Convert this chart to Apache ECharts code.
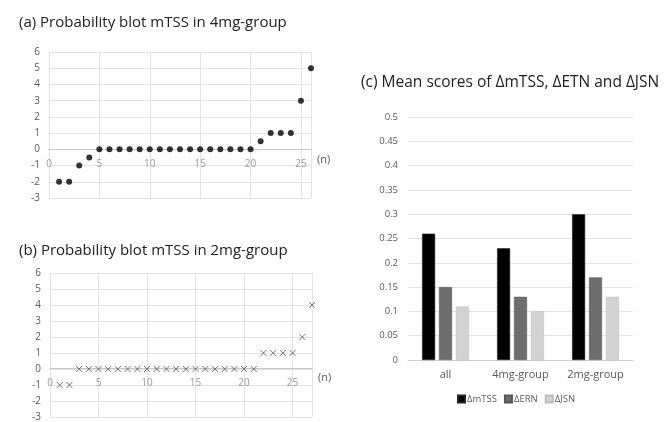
<!DOCTYPE html>
<html><head><meta charset="utf-8">
<script src="https://cdn.jsdelivr.net/npm/echarts@6/dist/echarts.min.js"></script>
<style>html,body{margin:0;padding:0;background:#fff}#c{width:670px;height:422px}</style>
</head><body><div id="c"></div>
<script>
// (a) 4mg-group probability plot
const nA = [1,2,3,4,5,6,7,8,9,10,11,12,13,14,15,16,17,18,19,20,21,22,23,24,25,26];
const mtss4mg = [-2,-2,-1,-0.5,0,0,0,0,0,0,0,0,0,0,0,0,0,0,0,0,0.5,1,1,1,3,5];
// (b) 2mg-group probability plot
const nB = [1,2,3,4,5,6,7,8,9,10,11,12,13,14,15,16,17,18,19,20,21,22,23,24,25,26,27];
const mtss2mg = [-1,-1,0,0,0,0,0,0,0,0,0,0,0,0,0,0,0,0,0,0,0,1,1,1,1,2,4];
// (c) mean scores
const groups = ['all','4mg-group','2mg-group'];
const dMTSS = [0.26,0.23,0.30];
const dERN = [0.15,0.13,0.17];
const dJSN = [0.11,0.10,0.13];
const seriesNames = ['ΔmTSS','ΔERN','ΔJSN'];
const titles = ['(a) Probability blot mTSS in 4mg-group','(b) Probability blot mTSS in 2mg-group','(c) Mean scores of ΔmTSS, ΔETN and ΔJSN'];

const FONT = '"Open Sans", "Liberation Sans", sans-serif';
const gridCol = '#e3e3e3';
const labCol = '#595959';
const Y_MIN = -3, Y_MAX = 6;

function scatterX(max, gi, gridH){
  // place the axis (line + labels) on the y = 0 line
  const off = -gridH * (0 - Y_MIN) / (Y_MAX - Y_MIN);
  return {
    type:'value', gridIndex:gi, min:0, max:max, interval:5, position:'bottom', offset:off,
    axisLine:{show:true, onZero:false, lineStyle:{color:'#c8c8c8'}},
    axisTick:{show:false},
    axisLabel:{color:'#9a9a9a', fontSize:10, fontFamily:FONT, margin:10, showMaxLabel:false},
    splitLine:{show:true, lineStyle:{color:gridCol}},
    name:'(n)', nameLocation:'end', nameGap:6,
    nameTextStyle:{color:labCol, fontSize:11, fontFamily:FONT, verticalAlign:'top', padding:[5,0,0,0]}
  };
}
function scatterY(gi){
  return {
    type:'value', gridIndex:gi, min:Y_MIN, max:Y_MAX, interval:1,
    axisLine:{show:false}, axisTick:{show:false},
    axisLabel:{color:labCol, fontSize:10, fontFamily:FONT, margin:9},
    splitLine:{show:true, lineStyle:{color:gridCol}}
  };
}

const gridA = {left:49, top:52, width:262, height:146};
const gridB = {left:50, top:273, width:262, height:147.5};
const gridC = {left:408, top:117, width:225, height:243};

const chart = echarts.init(document.getElementById('c'), null, {renderer:'canvas'});
chart.setOption({
  animation:false,
  backgroundColor:'#fff',
  textStyle:{fontFamily:FONT},
  title:[
    {text:titles[0], left:14, top:10, textStyle:{fontSize:15, fontWeight:'normal', color:'#222', fontFamily:FONT}},
    {text:titles[1], left:14, top:238, textStyle:{fontSize:15, fontWeight:'normal', color:'#222', fontFamily:FONT}},
    {text:titles[2], left:356, top:70, textStyle:{fontSize:15.5, fontWeight:'normal', color:'#222', fontFamily:FONT}}
  ],
  grid:[gridA, gridB, gridC],
  xAxis:[
    scatterX(26,0,gridA.height),
    scatterX(27,1,gridB.height),
    {type:'category', gridIndex:2, data:groups,
     axisLine:{show:true, lineStyle:{color:'#d0d0d0'}}, axisTick:{show:false},
     axisLabel:{color:labCol, fontSize:11, fontFamily:FONT, margin:9}}
  ],
  yAxis:[
    scatterY(0), scatterY(1),
    {type:'value', gridIndex:2, min:0, max:0.5, interval:0.05,
     axisLine:{show:false}, axisTick:{show:false},
     axisLabel:{color:labCol, fontSize:9.5, fontFamily:FONT, margin:10},
     splitLine:{show:true, lineStyle:{color:gridCol}}}
  ],
  legend:{
    data:seriesNames, left:452, top:389, icon:'rect', itemWidth:7, itemHeight:7, itemGap:7,
    textStyle:{color:labCol, fontSize:9.5, fontFamily:FONT, padding:[0,0,0,-3]}
  },
  series:[
    {type:'scatter', xAxisIndex:0, yAxisIndex:0, symbol:'circle', symbolSize:6,
     itemStyle:{color:'#000'}, data:nA.map((n,i)=>[n, mtss4mg[i]])},
    {type:'scatter', xAxisIndex:1, yAxisIndex:1,
     symbol:'path://M0,0L10,10M10,0L0,10', symbolSize:6,
     itemStyle:{color:'#555', borderColor:'#555', borderWidth:1}, data:nB.map((n,i)=>[n, mtss2mg[i]])},
    {type:'bar', name:seriesNames[0], xAxisIndex:2, yAxisIndex:2, data:dMTSS, barWidth:13, barGap:'30%',
     itemStyle:{color:'#000', borderColor:'#222', borderWidth:0.5}},
    {type:'bar', name:seriesNames[1], xAxisIndex:2, yAxisIndex:2, data:dERN, barWidth:13, barGap:'30%',
     itemStyle:{color:'#6d6d6d', borderColor:'#555', borderWidth:0.5}},
    {type:'bar', name:seriesNames[2], xAxisIndex:2, yAxisIndex:2, data:dJSN, barWidth:13, barGap:'30%',
     itemStyle:{color:'#d2d2d2', borderColor:'#bdbdbd', borderWidth:0.5}}
  ]
});
</script></body></html>
